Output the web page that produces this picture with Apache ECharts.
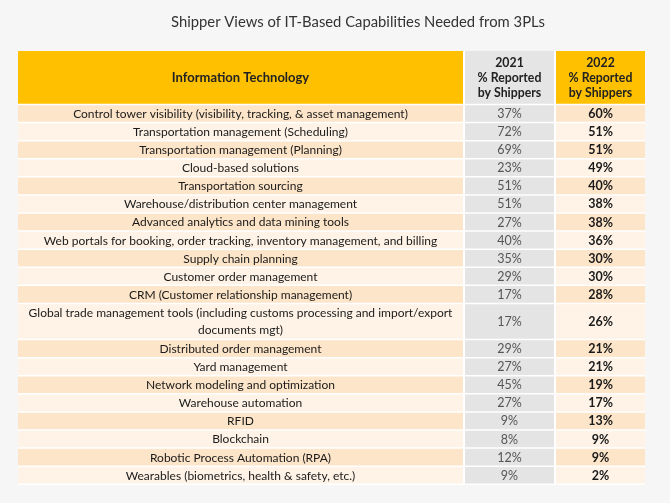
<!DOCTYPE html>
<html lang="en">
<head>
  <meta charset="UTF-8">
  <title>Shipper Views of IT-Based Capabilities Needed from 3PLs</title>
  <style>
    html, body { margin: 0; padding: 0; background: #f6f6f6; }
    #main { width: 670px; height: 503px; }
  </style>
</head>
<body>
<div id="main"></div>
<script src="https://cdn.jsdelivr.net/npm/echarts@6/dist/echarts.min.js"></script>
<script>
  // table data
  var headers = ['Information Technology', '2021\n% Reported\nby Shippers', '2022\n% Reported\nby Shippers'];
  var capabilities = [
    'Control tower visibility (visibility, tracking, & asset management)',
    'Transportation management (Scheduling)',
    'Transportation management (Planning)',
    'Cloud-based solutions',
    'Transportation sourcing',
    'Warehouse/distribution center management',
    'Advanced analytics and data mining tools',
    'Web portals for booking, order tracking, inventory management, and billing',
    'Supply chain planning',
    'Customer order management',
    'CRM (Customer relationship management)',
    'Global trade management tools (including customs processing and import/export\ndocuments mgt)',
    'Distributed order management',
    'Yard management',
    'Network modeling and optimization',
    'Warehouse automation',
    'RFID',
    'Blockchain',
    'Robotic Process Automation (RPA)',
    'Wearables (biometrics, health & safety, etc.)'
  ];
  var pct2021 = [37, 72, 69, 23, 51, 51, 27, 40, 35, 29, 17, 17, 29, 27, 45, 27, 9, 8, 12, 9];
  var pct2022 = [60, 51, 51, 49, 40, 38, 38, 36, 30, 30, 28, 26, 21, 21, 19, 17, 13, 9, 9, 2];

  // layout: column edges on the x axis, header is 3 row units tall
  var colEdges = [0, 447, 538, 627];
  var headSpan = 3;

  var cells = [];
  var texts = [];
  headers.forEach(function (h, c) {
    cells.push([c, 0, headSpan, -1]);
    texts.push(h);
  });
  var start = headSpan;
  capabilities.forEach(function (name, i) {
    var span = name.split('\n').length;
    cells.push([0, start, span, i]); texts.push(name);
    cells.push([1, start, span, i]); texts.push(pct2021[i] + '%');
    cells.push([2, start, span, i]); texts.push(pct2022[i] + '%');
    start += span;
  });
  var totalUnits = start;

  function cellFill(col, row) {
    if (row < 0) return col === 1 ? '#e5e5e5' : '#ffc000';
    if (col === 1) return '#e4e4e4';
    return row % 2 === 0 ? '#fde5c9' : '#fef3e6';
  }

  function cellFont(col, row) {
    if (row < 0) return col === 0 ? 'bold 13px Lato' : 'bold 12.3px Lato';
    if (col === 2) return 'bold 12.5px Lato';
    if (col === 1) return '12.5px Lato';
    return '12px Lato';
  }

  function cellColor(col, row) {
    if (row < 0) return '#222';
    if (col === 1) return '#555';
    return '#1a1a1a';
  }

  var myChart = echarts.init(document.getElementById('main'));
  var option = {
    backgroundColor: '#f6f6f6',
    title: {
      text: 'Shipper Views of IT-Based Capabilities Needed from 3PLs',
      left: 353,
      top: 10,
      textAlign: 'center',
      textStyle: { fontFamily: 'Lato', fontSize: 14.8, fontWeight: 'normal', color: '#333' }
    },
    grid: { left: 18, right: 25, top: 51, bottom: 18, show: true, backgroundColor: '#fff', borderWidth: 0 },
    xAxis: { type: 'value', min: 0, max: colEdges[3], show: false },
    yAxis: { type: 'value', min: 0, max: totalUnits, inverse: true, show: false },
    series: [{
      type: 'custom',
      silent: true,
      data: cells,
      encode: { x: 0, y: 1 },
      renderItem: function (params, api) {
        var col = api.value(0);
        var top = api.value(1);
        var span = api.value(2);
        var row = api.value(3);
        var p0 = api.coord([colEdges[col], top]);
        var p1 = api.coord([colEdges[col + 1], top + span]);
        var w = p1[0] - p0[0] - (col < 2 ? 2 : 0);
        var h = p1[1] - p0[1] - 1.5;
        return {
          type: 'group',
          children: [{
            type: 'rect',
            shape: { x: p0[0], y: p0[1], width: w, height: h },
            style: { fill: cellFill(col, row) }
          }, {
            type: 'text',
            style: {
              text: texts[params.dataIndex],
              x: p0[0] + w / 2,
              y: p0[1] + h / 2 + 0.5,
              align: 'center',
              verticalAlign: 'middle',
              font: cellFont(col, row),
              lineHeight: row < 0 ? 15 : 17,
              fill: cellColor(col, row)
            }
          }]
        };
      }
    }]
  };
  myChart.setOption(option);
</script>
</body>
</html>
